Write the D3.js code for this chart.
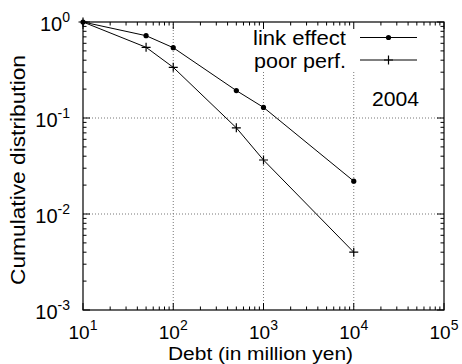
<!DOCTYPE html>
<html>
<head>
<meta charset="utf-8">
<script src="https://cdn.jsdelivr.net/npm/d3@7"></script>
<style>
    body { margin: 0; background: #fff; }
    text { font-family: "Liberation Sans", Arial, sans-serif; fill: #000; }
</style>
</head>
<body>
<div id="chart"></div>
<script>
// data
var debt = [10, 50, 100, 500, 1000, 10000];
var linkEffect = [1, 0.72, 0.54, 0.193, 0.129, 0.022];
var poorPerf = [1, 0.545, 0.337, 0.079, 0.0365, 0.004];
var seriesNames = ["link effect", "poor perf."];
var xTickExp = [1, 2, 3, 4, 5];
var yTickExp = [0, -1, -2, -3];
var yearLabel = "2004";

var width = 462, height = 364;
var margin = { top: 22, right: 18, bottom: 54, left: 83 };

var svg = d3.select("#chart")
    .append("svg")
    .attr("width", width)
    .attr("height", height);

var x = d3.scaleLog()
    .domain([10, 1e5])
    .range([margin.left, width - margin.right]);

var y = d3.scaleLog()
    .domain([1e-3, 1])
    .range([height - margin.bottom, margin.top]);

var x0 = x.range()[0], x1 = x.range()[1];
var y0 = y.range()[0], y1 = y.range()[1];

// grid lines (dotted)
var grid = svg.append("g");
xTickExp.slice(1, -1).forEach(function (e) {
    grid.append("line")
        .attr("x1", x(Math.pow(10, e))).attr("x2", x(Math.pow(10, e)))
        .attr("y1", y0).attr("y2", y1)
        .attr("stroke", "#777")
        .attr("stroke-dasharray", "1,2");
});
yTickExp.slice(1, -1).forEach(function (e) {
    grid.append("line")
        .attr("x1", x0).attr("x2", x1)
        .attr("y1", y(Math.pow(10, e))).attr("y2", y(Math.pow(10, e)))
        .attr("stroke", "#777")
        .attr("stroke-dasharray", "1,2");
});

// opaque key box hides the grid behind it
svg.append("rect")
    .attr("x", 250).attr("y", y1 + 1)
    .attr("width", 180).attr("height", 49)
    .attr("fill", "#fff");

// ticks on all four sides, pointing inward
var ticks = svg.append("g").attr("stroke", "#000").attr("stroke-width", 1);
var xMinor = [], yMinor = [];
for (var e = 1; e < 5; e++) {
    for (var m = 2; m < 10; m++) xMinor.push(m * Math.pow(10, e));
}
for (var e = -3; e < 0; e++) {
    for (var m = 2; m < 10; m++) yMinor.push(m * Math.pow(10, e));
}
function drawXTick(v, len) {
    ticks.append("line").attr("x1", x(v)).attr("x2", x(v)).attr("y1", y0).attr("y2", y0 - len);
    ticks.append("line").attr("x1", x(v)).attr("x2", x(v)).attr("y1", y1).attr("y2", y1 + len);
}
function drawYTick(v, len) {
    ticks.append("line").attr("x1", x0).attr("x2", x0 + len).attr("y1", y(v)).attr("y2", y(v));
    ticks.append("line").attr("x1", x1).attr("x2", x1 - len).attr("y1", y(v)).attr("y2", y(v));
}
xMinor.forEach(function (v) { drawXTick(v, 3.5); });
yMinor.forEach(function (v) { drawYTick(v, 3.5); });
xTickExp.forEach(function (e) { drawXTick(Math.pow(10, e), 7); });
yTickExp.forEach(function (e) { drawYTick(Math.pow(10, e), 7); });

// border
svg.append("rect")
    .attr("x", x0).attr("y", y1)
    .attr("width", x1 - x0).attr("height", y0 - y1)
    .attr("fill", "none")
    .attr("stroke", "#000")
    .attr("stroke-width", 1.2);

// tick labels as 10^n
function powLabel(sel, e) {
    sel.append("tspan").text("10");
    sel.append("tspan")
        .attr("dy", -9)
        .style("font-size", "14px")
        .text(e);
}
xTickExp.forEach(function (e) {
    var t = svg.append("text")
        .attr("x", x(Math.pow(10, e)))
        .attr("y", 339)
        .attr("text-anchor", "middle")
        .style("font-size", "19px");
    powLabel(t, e);
});
yTickExp.forEach(function (e) {
    var t = svg.append("text")
        .attr("x", 70)
        .attr("y", y(Math.pow(10, e)) + 8.5)
        .attr("text-anchor", "end")
        .style("font-size", "20px");
    powLabel(t, e);
});

// axis titles (the original font runs a bit wide)
svg.append("text")
    .attr("x", 260.5)
    .attr("y", 359.5)
    .attr("text-anchor", "middle")
    .attr("textLength", 185)
    .attr("lengthAdjust", "spacingAndGlyphs")
    .style("font-size", "18px")
    .text("Debt (in million yen)");

svg.append("text")
    .attr("transform", "translate(25,170) rotate(-90)")
    .attr("text-anchor", "middle")
    .attr("textLength", 230)
    .attr("lengthAdjust", "spacingAndGlyphs")
    .style("font-size", "20px")
    .text("Cumulative distribution");

// series
var line = d3.line()
    .x(function (d) { return x(d[0]); })
    .y(function (d) { return y(d[1]); });

var linkData = debt.map(function (d, i) { return [d, linkEffect[i]]; });
var poorData = debt.map(function (d, i) { return [d, poorPerf[i]]; });

svg.append("path")
    .datum(linkData)
    .attr("d", line)
    .attr("fill", "none")
    .attr("stroke", "#000")
    .attr("stroke-width", 1);

svg.append("path")
    .datum(poorData)
    .attr("d", line)
    .attr("fill", "none")
    .attr("stroke", "#000")
    .attr("stroke-width", 1);

svg.selectAll(".dot")
    .data(linkData)
    .enter().append("circle")
    .attr("class", "dot")
    .attr("cx", function (d) { return x(d[0]); })
    .attr("cy", function (d) { return y(d[1]); })
    .attr("r", 2.6)
    .attr("fill", "#000");

function plus(cx, cy) {
    var p = "M" + (cx - 4.5) + "," + cy + "h9M" + cx + "," + (cy - 4.5) + "v9";
    return p;
}
svg.selectAll(".plus")
    .data(poorData)
    .enter().append("path")
    .attr("class", "plus")
    .attr("d", function (d) { return plus(x(d[0]), y(d[1])); })
    .attr("stroke", "#000")
    .attr("stroke-width", 1.2);

// key
var keyY = [37.5, 60];
var keyLen = [93, 92];
seriesNames.forEach(function (name, i) {
    svg.append("text")
        .attr("x", 346)
        .attr("y", keyY[i] + 7.5)
        .attr("text-anchor", "end")
        .attr("textLength", keyLen[i])
        .attr("lengthAdjust", "spacingAndGlyphs")
        .style("font-size", "20px")
        .text(name);
    svg.append("line")
        .attr("x1", 360).attr("x2", 417)
        .attr("y1", keyY[i]).attr("y2", keyY[i])
        .attr("stroke", "#000");
});
svg.append("circle")
    .attr("cx", 388.5).attr("cy", keyY[0])
    .attr("r", 2.6).attr("fill", "#000");
svg.append("path")
    .attr("d", plus(388.5, keyY[1]))
    .attr("stroke", "#000")
    .attr("stroke-width", 1.2);

svg.append("text")
    .attr("x", 419)
    .attr("y", 106)
    .attr("text-anchor", "end")
    .attr("textLength", 47)
    .attr("lengthAdjust", "spacingAndGlyphs")
    .style("font-size", "20px")
    .text(yearLabel);
</script>
</body>
</html>
